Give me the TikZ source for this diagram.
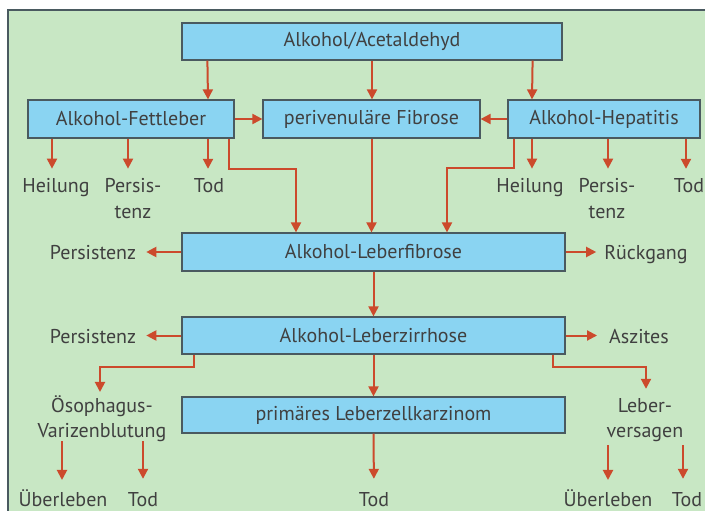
\documentclass[tikz,border=0pt]{standalone}
\usepackage{fontspec}
\setmainfont{PT Sans}
\usetikzlibrary{arrows.meta,calc}
\definecolor{panelbg}{HTML}{C8E7C4}
\definecolor{boxblue}{HTML}{8AD4F2}
\definecolor{boxedge}{HTML}{4A5A60}
\definecolor{arrred}{HTML}{CC4A2C}
\definecolor{txt}{HTML}{404040}
\tikzset{
  box/.style={draw=boxedge, line width=1.2pt, fill=boxblue, inner sep=0pt,
    font=\fontsize{20}{24}\selectfont, text=txt},
  lbl/.style={inner sep=0pt, align=center, anchor=base, font=\fontsize{20}{25}\selectfont, text=txt},
  arr/.style={draw=arrred, line width=2pt, -{Triangle[length=10pt,width=10pt]}},
}
\begin{document}
\begin{tikzpicture}[x=1pt,y=-1pt]
\useasboundingbox (0,0) rectangle (705,511);
\fill[white] (0,0) rectangle (705,511);
\fill[panelbg] (8,10) rectangle (705,511);
\draw[boxedge, line width=1.5pt] (8,511) -- (8,10) -- (705,10);

% boxes
\node[box, minimum width=380, minimum height=37] (top) at (372,41.5) {Alkohol/Acetaldehyd};
\node[box, minimum width=206, minimum height=38] (fett) at (131,119) {Alkohol-Fettleber};
\node[box, minimum width=217, minimum height=38] (peri) at (371.5,119) {perivenuläre Fibrose};
\node[box, minimum width=192, minimum height=38] (hep) at (604,119) {Alkohol-Hepatitis};
\node[box, minimum width=383, minimum height=38] (fib) at (373.5,252) {Alkohol-Leberfibrose};
\node[box, minimum width=383, minimum height=37] (zir) at (373.5,335.5) {Alkohol-Leberzirrhose};
\node[box, minimum width=383, minimum height=36] (karz) at (373.5,415) {primäres Leberzellkarzinom};

% labels (placed at the baseline of their last line)
\node[lbl] (heil1) at (56,193) {Heilung};
\node[lbl] (pers1) at (133,218) {Persis-\\tenz};
\node[lbl] (tod1) at (209,193) {Tod};
\node[lbl] (heil2) at (530,193) {Heilung};
\node[lbl] (pers2) at (607,218) {Persis-\\tenz};
\node[lbl] (tod2) at (689,193) {Tod};
\node[lbl] (pers3) at (93,259) {Persistenz};
\node[lbl] (rueck) at (646,259) {Rückgang};
\node[lbl] (pers4) at (93,343) {Persistenz};
\node[lbl] (asz) at (639,343) {Aszites};
\node[lbl] (oes) at (102,437) {Ösophagus-\\Varizenblutung};
\node[lbl] (leb) at (645,437) {Leber-\\versagen};
\node[lbl] (ueb1) at (63,506) {Überleben};
\node[lbl] (tod4) at (143,506) {Tod};
\node[lbl] (tod3) at (374,506) {Tod};
\node[lbl] (ueb2) at (608,506) {Überleben};
\node[lbl] (tod5) at (687,506) {Tod};

% top row arrows
\draw[arr] ([xshift=26pt]top.south west) -- ([xshift=77pt]fett.north);
\draw[arr] (top.south) -- (top.south |- peri.north);
\draw[arr] ([xshift=-30pt]top.south east) -- ([xshift=-72pt]hep.north);
\draw[arr] (fett.east) -- (peri.west);
\draw[arr] (hep.west) -- (peri.east);

% outcomes of Fettleber / Hepatitis
\draw[arr, shorten >=10pt] ([xshift=-4pt]fett.south -| heil1.north) -- ([xshift=-4pt]heil1.north);
\draw[arr, shorten >=10pt] ([xshift=-5pt]fett.south -| pers1.north) -- ([xshift=-5pt]pers1.north);
\draw[arr, shorten >=10pt] ([xshift=-1pt]fett.south -| tod1.north) -- ([xshift=-1pt]tod1.north);
\draw[arr, shorten >=10pt] ([xshift=2pt]hep.south -| heil2.north) -- ([xshift=2pt]heil2.north);
\draw[arr, shorten >=10pt] ([xshift=1pt]hep.south -| pers2.north) -- ([xshift=1pt]pers2.north);
\draw[arr, shorten >=10pt] ([xshift=-3pt]hep.south -| tod2.north) -- ([xshift=-3pt]tod2.north);

% to Leberfibrose
\draw[arr] ([xshift=-6pt]fett.south east) -- ++(0,30) -| ([xshift=-77.5pt]fib.north);
\draw[arr] (peri.south) -- (peri.south |- fib.north);
\draw[arr] ([xshift=7pt]hep.south west) -- ++(0,29) -| ([xshift=73.5pt]fib.north);

% Leberfibrose
\draw[arr, shorten >=10pt] (fib.west) -- (fib.west -| pers3.east);
\draw[arr, shorten >=8pt] (fib.east) -- (fib.east -| rueck.west);
\draw[arr] (fib.south) -- (zir.north);

% Leberzirrhose
\draw[arr, shorten >=10pt] (zir.west) -- (zir.west -| pers4.east);
\draw[arr, shorten >=12pt] (zir.east) -- (zir.east -| asz.west);
\draw[arr] (zir.south) -- (karz.north);
\draw[arr, shorten >=3pt] ([xshift=13pt]zir.south west) -- ++(0,12) -| ([xshift=-2pt]oes.north);
\draw[arr, shorten >=9pt] ([xshift=-13pt]zir.south east) -- ++(0,12) -| ([xshift=1pt]leb.north);

% bottom
\draw[arr, shorten >=13pt] (karz.south) -- (tod3.north);
\draw[arr, shorten >=9pt] ([xshift=-1pt]oes.south -| ueb1.north) -- ([xshift=-1pt]ueb1.north);
\draw[arr, shorten >=13pt] (oes.south -| tod4.north) -- (tod4.north);
\draw[arr, shorten >=9pt] ([yshift=-4pt]leb.south -| ueb2.north) -- (ueb2.north);
\draw[arr, shorten >=13pt] ([yshift=-4pt,xshift=-4pt]leb.south -| tod5.north) -- ([xshift=-4pt]tod5.north);
\end{tikzpicture}
\end{document}
